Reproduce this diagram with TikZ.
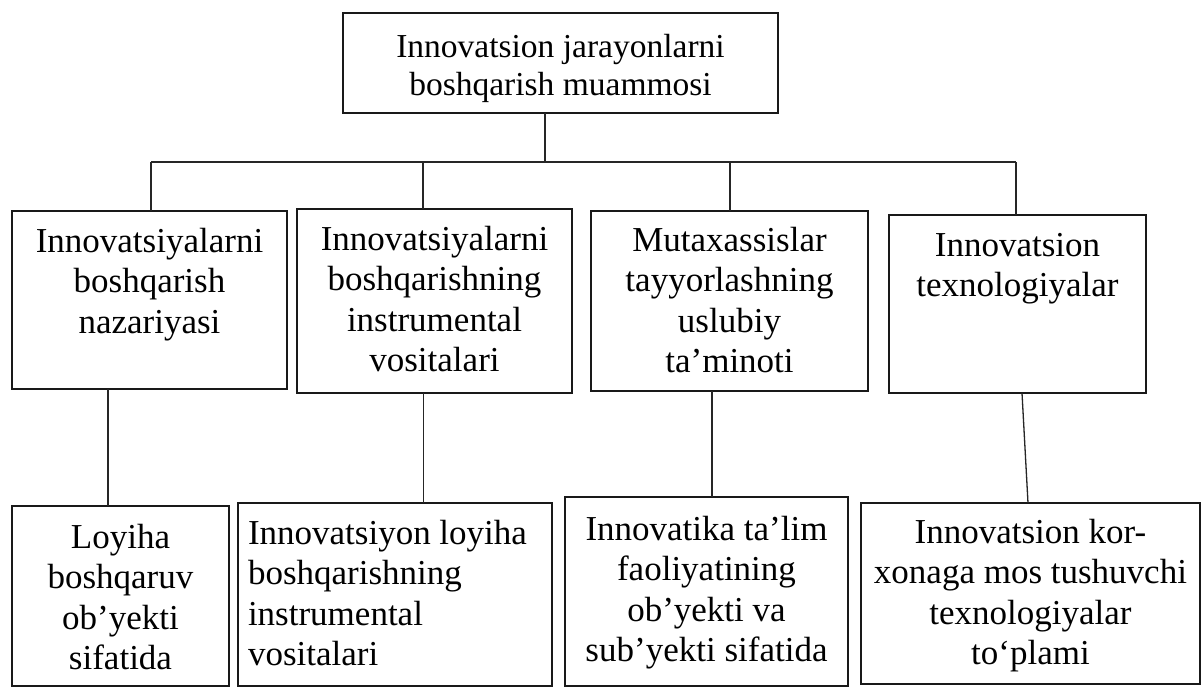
\documentclass[tikz,border=0pt]{standalone}
\usepackage{fontspec}
\setmainfont{Liberation Serif}
\newcommand{\bxt}[4]{\parbox[c][#2][t]{#1}{\fontsize{35pt}{40.5pt}\selectfont\centering\rule{0pt}{#3}#4\par}}
\newcommand{\bxl}[4]{\parbox[c][#2][t]{#1}{\fontsize{35pt}{40.5pt}\selectfont\raggedright\leftskip=10pt\rule{0pt}{#3}#4\par}}
\begin{document}
\begin{tikzpicture}[x=1pt,y=-1pt,
  box/.style={draw=black!90,line width=1.6pt,inner sep=0pt,outer sep=0pt,anchor=north west},
  conn/.style={draw=black!85,line width=1.3pt}]
\useasboundingbox (0,0) rectangle (1203,688);
\fill[white] (0,0) rectangle (1203,688);
% top
\node[box] (top) at (343,13) {\bxt{435pt}{100pt}{44pt}{\fontsize{33.5pt}{38pt}\selectfont Innovatsion jarayonlarni\\boshqarish muammosi}};
% middle row
\node[box] (b1) at (12,211) {\bxt{275pt}{178pt}{41pt}{Innovatsiyalarni\\boshqarish\\nazariyasi}};
\node[box] (b2) at (297,209) {\bxt{275pt}{184pt}{41pt}{Innovatsiyalarni\\boshqarishning\\instrumental\\vositalari}};
\node[box] (b3) at (591,211) {\bxt{277pt}{180pt}{40pt}{Mutaxassislar\\tayyorlashning\\uslubiy\\ta’minoti}};
\node[box] (b4) at (889,215) {\bxt{257pt}{178pt}{41pt}{Innovatsion\\texnologiyalar}};
% bottom row
\node[box] (b5) at (12,506) {\bxt{217pt}{180pt}{42pt}{Loyiha\\boshqaruv\\ob’yekti\\sifatida}};
\node[box] (b6) at (238,503) {\bxl{314pt}{183pt}{41pt}{Innovatsiyon loyiha\\boshqarishning\\instrumental\\vositalari}};
\node[box] (b7) at (565,497) {\bxt{283pt}{189pt}{43pt}{Innovatika ta’lim\\faoliyatining\\ob’yekti va\\sub’yekti sifatida}};
\node[box] (b8) at (861,503) {\bxt{339pt}{181pt}{40pt}{Innovatsion kor-\\xonaga mos tushuvchi\\texnologiyalar\\to‘plami}};
% bus junctions
\coordinate (j0) at (545,162);
\coordinate (j1) at (151,162);
\coordinate (j2) at (423,162);
\coordinate (j3) at (730,162);
\coordinate (j4) at (1016,162);
\draw[conn] (j1) -- (j4);
\draw[conn] (top.south -| j0) -- (j0);
\draw[conn] (j1) -- (j1 |- b1.north);
\draw[conn] (j2) -- (j2 |- b2.north);
\draw[conn] (j3) -- (j3 |- b3.north);
\draw[conn] (j4) -- (j4 |- b4.north);
% lower connectors
\coordinate (k1) at (108,0);
\coordinate (k2) at (423.5,0);
\coordinate (k3) at (712,0);
\coordinate (k4a) at (1022,0);
\coordinate (k4b) at (1028,0);
\draw[conn] (b1.south -| k1) -- (b5.north -| k1);
\draw[conn] (b2.south -| k2) -- (b6.north -| k2);
\draw[conn] (b3.south -| k3) -- (b7.north -| k3);
\draw[conn] (b4.south -| k4a) -- (b8.north -| k4b);
\end{tikzpicture}
\end{document}
